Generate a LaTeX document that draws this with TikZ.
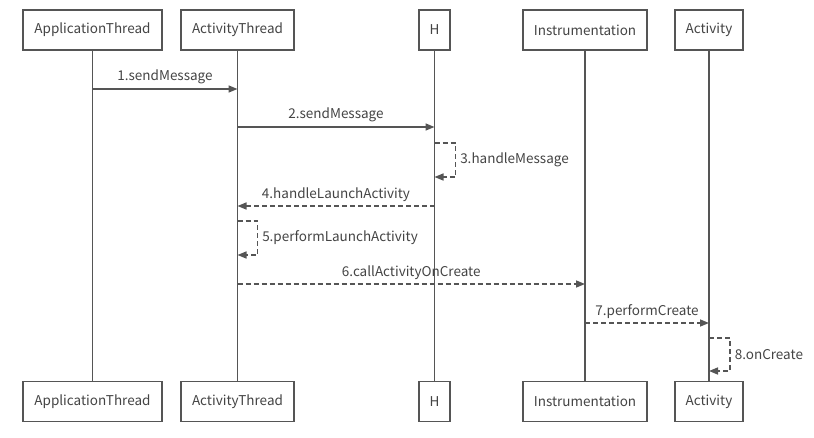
\documentclass[tikz,border=0pt]{standalone}
\usepackage{fontspec}
\setmainfont{Noto Sans CJK SC}
\usepackage{tikz}
\usetikzlibrary{arrows.meta}
\definecolor{lnc}{HTML}{555555}
\definecolor{txc}{HTML}{444444}
\tikzset{>={Triangle[length=9pt,width=7pt]},
  obj/.style={draw=lnc,line width=1.7pt,fill=white,text=txc,minimum height=40pt,inner xsep=0pt,font=\fontsize{13.5}{16}\selectfont},
  life/.style={draw=lnc,line width=1.6pt},
  call/.style={draw=lnc,line width=1.5pt,->,color=lnc},
  reply/.style={call,dash pattern=on 5pt off 3pt},
  lbl/.style={text=txc,font=\fontsize{13.5}{16}\selectfont,inner sep=1pt}}

\begin{document}
\begin{tikzpicture}[x=1pt,y=-1pt]
      \useasboundingbox (0,0) rectangle (814,437);
      % objects, top and bottom
      \node[obj,minimum width=139pt] (appT) at (92.5,30) {ApplicationThread};
      \node[obj,minimum width=113pt] (actT) at (237.5,30) {ActivityThread};
      \node[obj,minimum width=31pt] (hT) at (434.5,30) {H};
      \node[obj,minimum width=124pt] (insT) at (585,30) {Instrumentation};
      \node[obj,minimum width=68pt] (actvT) at (709,30) {Activity};
      \node[obj,minimum width=139pt] (appB) at (92.5,401.5) {ApplicationThread};
      \node[obj,minimum width=113pt] (actB) at (237.5,401.5) {ActivityThread};
      \node[obj,minimum width=31pt] (hB) at (434.5,401.5) {H};
      \node[obj,minimum width=124pt] (insB) at (585,401.5) {Instrumentation};
      \node[obj,minimum width=68pt] (actvB) at (709,401.5) {Activity};
      % lifelines
      \draw[life] (appT) -- (appB);
      \draw[life] (actT) -- (actB);
      \draw[life] (hT) -- (hB);
      \draw[life] (insT) -- (insB);
      \draw[life] (actvT) -- (actvB);
      % messages
      \coordinate (m1a) at (appT.south |- 0,89);
      \coordinate (m1b) at (actT.south |- 0,89);
      \draw[call] (m1a) -- (m1b) node[midway,above=3pt,lbl] {1.sendMessage};
      \coordinate (m2a) at (actT.south |- 0,127);
      \coordinate (m2b) at (hT.south |- 0,127);
      \draw[call] (m2a) -- (m2b) node[midway,above=3pt,lbl] {2.sendMessage};
      \coordinate (m3a) at (hT.south |- 0,143);
      \coordinate (m3b) at (hT.south |- 0,177);
      \draw[reply] (m3a) -- ++(21,0) |- (m3b) node[pos=0.25,right=3pt,lbl] {3.handleMessage};
      \coordinate (m4a) at (hT.south |- 0,206);
      \coordinate (m4b) at (actT.south |- 0,206);
      \draw[reply] (m4a) -- (m4b) node[midway,above=3pt,lbl] {4.handleLaunchActivity};
      \coordinate (m5a) at (actT.south |- 0,221);
      \coordinate (m5b) at (actT.south |- 0,255);
      \draw[reply] (m5a) -- ++(20,0) |- (m5b) node[pos=0.25,right=3pt,lbl] {5.performLaunchActivity};
      \coordinate (m6a) at (actT.south |- 0,284);
      \coordinate (m6b) at (insT.south |- 0,284);
      \draw[reply] (m6a) -- (m6b) node[midway,above=3pt,lbl] {6.callActivityOnCreate};
      \coordinate (m7a) at (insT.south |- 0,323);
      \coordinate (m7b) at (actvT.south |- 0,323);
      \draw[reply] (m7a) -- (m7b) node[midway,above=3pt,lbl] {7.performCreate};
      \coordinate (m8a) at (actvT.south |- 0,338);
      \coordinate (m8b) at (actvT.south |- 0,371);
      \draw[reply] (m8a) -- ++(21,0) |- (m8b) node[pos=0.25,right=3pt,lbl] {8.onCreate};
    \end{tikzpicture}
\end{document}
